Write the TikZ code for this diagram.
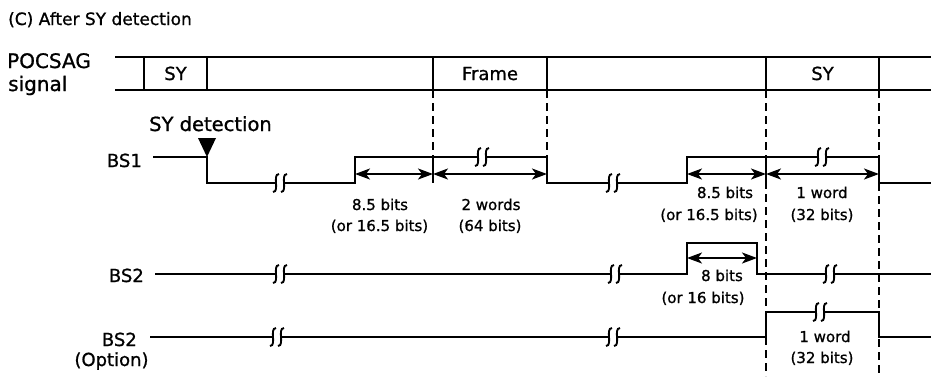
\documentclass[tikz,border=0pt]{standalone}
\usepackage{fontspec}
\setmainfont{DejaVu Sans}[FakeBold=1]
\usetikzlibrary{arrows.meta}
\tikzset{
  sig/.style={line width=2.6pt, line join=miter},
  dsh/.style={line width=2pt, dash pattern=on 8pt off 5pt},
  dimarrow/.style={line width=2pt, {Stealth[length=15pt,width=11pt,inset=4pt]}-{Stealth[length=15pt,width=11pt,inset=4pt]}},
  lbl/.style={font=\fontsize{18}{21}\selectfont, inner sep=0pt},
  sm/.style={font=\fontsize{15}{18}\selectfont, inner sep=0pt, anchor=base},
  brk/.pic={
    \fill[white] (-4,-2.5) rectangle (4,2.5);
    \draw[line width=1.9pt] (-1,-9) .. controls (-5,-9) and (-4,-3) .. (-4,0) .. controls (-4,3) and (-3,9) .. (-7,9);
    \draw[line width=1.9pt] (7,-9) .. controls (3,-9) and (4,-3) .. (4,0) .. controls (4,3) and (5,9) .. (1,9);
  }
}
\begin{document}
\begin{tikzpicture}[x=1pt,y=-1pt]
\useasboundingbox (0,0) rectangle (931,376);

% title
\node[anchor=base west, font=\fontsize{17}{20}\selectfont, inner sep=0pt] (title) at (8,25) {(C) After SY detection};

% POCSAG signal
\node[anchor=base west, font=\fontsize{20}{24}\selectfont, inner sep=0pt] (poc) at (7,68) {POCSAG};
\node[anchor=base west, font=\fontsize{20}{24}\selectfont, inner sep=0pt] (sig) at (8,91) {signal};
\draw[sig] (115,57) -- (931,57);
\draw[sig] (115,90) -- (931,90);
\foreach \x in {144,207,433,547,766,879} \draw[sig] (\x,57) -- (\x,90);
\node[anchor=base, font=\fontsize{18}{21}\selectfont, inner sep=0pt] (sy1) at (175.5,80) {SY};
\node[anchor=base, font=\fontsize{18}{21}\selectfont, inner sep=0pt] (frame) at (490,80) {Frame};
\node[anchor=base, font=\fontsize{18}{21}\selectfont, inner sep=0pt] (sy2) at (822.5,80) {SY};

% dashed guides
\draw[dsh] (433,90) -- (433,157);
\draw[dsh] (547,90) -- (547,157);
\draw[dsh] (766,90) -- (766,376);
\draw[dsh] (879,90) -- (879,157);
\draw[dsh] (879,183) -- (879,376);

% SY detection
\node[anchor=base, font=\fontsize{19.5}{22}\selectfont, inner sep=0pt] (sydet) at (210.5,131) {SY detection};
\fill (198,138) -- (216,138) -- (207,157) -- cycle;

% BS1
\node[lbl, anchor=base east] (bs1) at (142,167) {BS1};
\draw[sig] (153,157) -- (207,157) -- (207,183) -- (355,183) -- (355,157) -- (547,157) -- (547,183)
  -- (687,183) -- (687,157) -- (879,157) -- (879,183) -- (931,183);
\pic at (280,183) {brk};
\pic at (482,157) {brk};
\pic at (613,183) {brk};
\pic at (822,157) {brk};
\draw[sig] (433,157) -- (433,183);
\draw[sig] (766,157) -- (766,183);
\draw[dimarrow] (355,174) -- (433,174);
\draw[dimarrow] (433,174) -- (547,174);
\draw[dimarrow] (687,174) -- (766,174);
\draw[dimarrow] (766,174) -- (879,174);
\node[sm] (a1) at (380,210) {8.5 bits};
\node[sm] (a2) at (379.5,231) {(or 16.5 bits)};
\node[sm] (b1) at (491,210) {2 words};
\node[sm] (b2) at (490,231) {(64 bits)};
\node[sm] (c1) at (725,198) {8.5 bits};
\node[sm] (c2) at (709,220) {(or 16.5 bits)};
\node[sm] (d1) at (822,198) {1 word};
\node[sm] (d2) at (822,220) {(32 bits)};

% BS2
\node[lbl, anchor=base east] (bs2) at (144,282) {BS2};
\draw[sig] (155,274) -- (687,274) -- (687,243) -- (757,243) -- (757,274) -- (931,274);
\pic at (280,274) {brk};
\pic at (615,274) {brk};
\pic at (830,274) {brk};
\draw[dimarrow] (687,258) -- (757,258);
\node[sm] (e1) at (722,281) {8 bits};
\node[sm] (e2) at (703,303) {(or 16 bits)};

% BS2 (Option)
\node[lbl, anchor=base east] (bs3) at (137,346) {BS2};
\node[lbl, anchor=base] (opt) at (111.5,366) {(Option)};
\draw[sig] (150,337) -- (766,337) -- (766,312) -- (879,312) -- (879,337) -- (931,337);
\pic at (277,337) {brk};
\pic at (613,337) {brk};
\pic at (820,312) {brk};
\node[sm] (f1) at (825,342) {1 word};
\node[sm] (f2) at (822,363) {(32 bits)};
\end{tikzpicture}
\end{document}
